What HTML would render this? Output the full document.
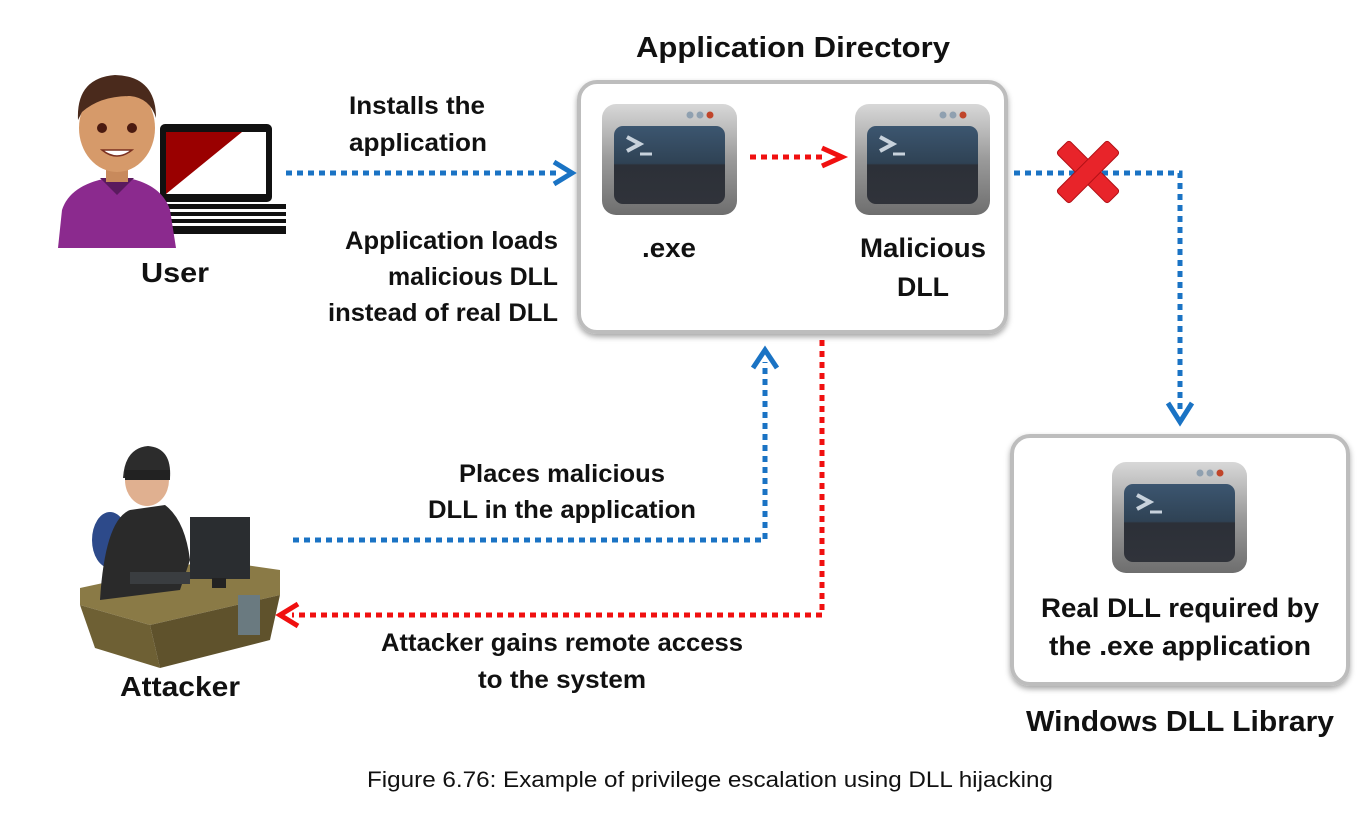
<!DOCTYPE html>
<html><head><meta charset="utf-8"><style>
html,body{margin:0;padding:0;background:#fff;}
svg{display:block;}
text{font-family:"Liberation Sans",sans-serif;font-weight:bold;fill:#111;}
</style></head><body>
<svg width="1366" height="816" viewBox="0 0 1366 816" xmlns="http://www.w3.org/2000/svg">
<defs>
<linearGradient id="frame" x1="0" y1="0" x2="0" y2="1"><stop offset="0" stop-color="#d8d8d8"/><stop offset="0.5" stop-color="#9a9a9a"/><stop offset="1" stop-color="#6e6e6e"/></linearGradient>
<linearGradient id="scr" x1="0" y1="0" x2="0" y2="1"><stop offset="0" stop-color="#3c5670"/><stop offset="0.48" stop-color="#2f4254"/><stop offset="0.5" stop-color="#2c3038"/><stop offset="1" stop-color="#30333a"/></linearGradient>
<filter id="sh" x="-5%" y="-5%" width="110%" height="115%"><feDropShadow dx="0" dy="3" stdDeviation="3" flood-color="#000" flood-opacity="0.35"/></filter>
<g id="term">
<rect x="0" y="0" width="135" height="111" rx="14" fill="url(#frame)"/>
<rect x="12" y="22" width="111" height="78" rx="9" fill="url(#scr)"/>
<circle cx="88" cy="11" r="3.5" fill="#8fa0b0"/><circle cx="98" cy="11" r="3.5" fill="#8fa0b0"/><circle cx="108" cy="11" r="3.5" fill="#c0452a"/>
<polyline points="25,33 38,40 25,47" fill="none" stroke="#c8d2dc" stroke-width="4"/>
<line x1="38" y1="50" x2="50" y2="50" stroke="#c8d2dc" stroke-width="3"/>
</g>
</defs>

<text x="793" y="57" font-size="29" text-anchor="middle" textLength="314" lengthAdjust="spacingAndGlyphs">Application Directory</text>

<rect x="579" y="82" width="427" height="250" rx="18" fill="#fff" stroke="#bdbdbd" stroke-width="4" filter="url(#sh)"/>
<use href="#term" x="602" y="104"/>
<use href="#term" x="855" y="104"/>
<text x="669" y="257" font-size="27" text-anchor="middle" textLength="54" lengthAdjust="spacingAndGlyphs">.exe</text>
<text x="923" y="257" font-size="27" text-anchor="middle" textLength="126" lengthAdjust="spacingAndGlyphs">Malicious</text>
<text x="923" y="296" font-size="27" text-anchor="middle" textLength="52" lengthAdjust="spacingAndGlyphs">DLL</text>

<line x1="750" y1="157" x2="822" y2="157" stroke="#f01010" stroke-width="5" stroke-dasharray="6,5"/>
<polyline points="822,148 842,157 822,166" fill="none" stroke="#f01010" stroke-width="5"/>

<rect x="1012" y="436" width="336" height="248" rx="18" fill="#fff" stroke="#bdbdbd" stroke-width="4" filter="url(#sh)"/>
<use href="#term" x="1112" y="462"/>
<text x="1180" y="617" font-size="27" text-anchor="middle" textLength="278" lengthAdjust="spacingAndGlyphs">Real DLL required by</text>
<text x="1180" y="655" font-size="27" text-anchor="middle" textLength="262" lengthAdjust="spacingAndGlyphs">the .exe application</text>
<text x="1180" y="731" font-size="29" text-anchor="middle" textLength="308" lengthAdjust="spacingAndGlyphs">Windows DLL Library</text>

<polyline points="1014,173 1180,173 1180,412" fill="none" stroke="#1a73c4" stroke-width="5" stroke-dasharray="6,5"/>
<polyline points="1168,403 1180,422 1192,403" fill="none" stroke="#1a73c4" stroke-width="5"/>
<g transform="translate(1088,172) rotate(45)">
<rect x="-36" y="-9" width="72" height="18" rx="3" fill="#e8242a" stroke="#b01015" stroke-width="1"/>
<rect x="-9" y="-36" width="18" height="72" rx="3" fill="#e8242a" stroke="#b01015" stroke-width="1"/>
</g>

<!-- User -->
<rect x="160" y="124" width="112" height="78" rx="5" fill="#111"/>
<rect x="166" y="132" width="100" height="62" fill="#fff"/>
<polygon points="166,132 242,132 166,194" fill="#9a0000"/>
<rect x="150" y="204" width="136" height="5" fill="#111"/>
<rect x="152" y="212" width="134" height="4" fill="#111"/>
<rect x="152" y="219" width="134" height="4" fill="#111"/>
<rect x="154" y="226" width="132" height="8" fill="#111"/>
<path d="M58,248 L62,210 Q70,185 108,178 L128,178 Q162,185 170,210 L176,248 Z" fill="#8b2a8e"/>
<path d="M100,178 L117,195 L134,178 Z" fill="#5a1a5e"/>
<rect x="106" y="160" width="22" height="22" fill="#c88a5c"/>
<ellipse cx="117" cy="128" rx="38" ry="44" fill="#d69a6a"/>
<path d="M78,120 Q76,78 115,75 Q156,76 156,118 Q150,98 130,96 Q100,96 82,112 Z" fill="#4a2a1c"/>
<circle cx="102" cy="128" r="5" fill="#4a1a10"/><circle cx="132" cy="128" r="5" fill="#4a1a10"/>
<path d="M102,150 Q117,162 132,150 Z" fill="#fff" stroke="#7a3020" stroke-width="1.5"/>
<text x="175" y="282" font-size="28" text-anchor="middle" textLength="68" lengthAdjust="spacingAndGlyphs">User</text>

<text x="349" y="114" font-size="25" textLength="136" lengthAdjust="spacingAndGlyphs">Installs the</text>
<text x="349" y="151" font-size="25" textLength="138" lengthAdjust="spacingAndGlyphs">application</text>
<line x1="286" y1="173" x2="560" y2="173" stroke="#1a73c4" stroke-width="5" stroke-dasharray="6,5"/>
<polyline points="554,162 572,173 554,184" fill="none" stroke="#1a73c4" stroke-width="5"/>

<text x="558" y="249" font-size="25" text-anchor="end" textLength="213" lengthAdjust="spacingAndGlyphs">Application loads</text>
<text x="558" y="285" font-size="25" text-anchor="end" textLength="170" lengthAdjust="spacingAndGlyphs">malicious DLL</text>
<text x="558" y="321" font-size="25" text-anchor="end" textLength="230" lengthAdjust="spacingAndGlyphs">instead of real DLL</text>

<!-- Attacker -->
<polygon points="80,588 210,560 280,570 280,595 150,625 80,605" fill="#8a7a46"/>
<polygon points="80,605 150,625 160,668 95,648" fill="#6e6034"/>
<polygon points="150,625 280,595 270,640 160,668" fill="#5f522c"/>
<ellipse cx="110" cy="540" rx="18" ry="28" fill="#2d4a8a"/>
<path d="M100,600 Q105,520 130,510 L165,505 Q185,520 190,560 L180,590 Z" fill="#2a2a2a"/>
<ellipse cx="147" cy="480" rx="22" ry="26" fill="#e0b090"/>
<path d="M123,478 Q125,448 148,446 Q172,448 170,478 Z" fill="#2c2c2c"/>
<rect x="125" y="470" width="45" height="10" fill="#222"/>
<rect x="190" y="517" width="60" height="62" fill="#2a2d30"/>
<rect x="212" y="578" width="14" height="10" fill="#222"/>
<rect x="130" y="572" width="60" height="12" fill="#3a3d40"/>
<rect x="238" y="595" width="22" height="40" fill="#6a7a80"/>
<text x="180" y="696" font-size="28" text-anchor="middle" textLength="120" lengthAdjust="spacingAndGlyphs">Attacker</text>

<text x="562" y="482" font-size="25" text-anchor="middle" textLength="206" lengthAdjust="spacingAndGlyphs">Places malicious</text>
<text x="562" y="518" font-size="25" text-anchor="middle" textLength="268" lengthAdjust="spacingAndGlyphs">DLL in the application</text>
<polyline points="293,540 765,540 765,362" fill="none" stroke="#1a73c4" stroke-width="5" stroke-dasharray="6,5"/>
<polyline points="753,368 765,350 777,368" fill="none" stroke="#1a73c4" stroke-width="5"/>

<polyline points="822,340 822,615 292,615" fill="none" stroke="#f01010" stroke-width="5" stroke-dasharray="6,5"/>
<polyline points="298,604 280,615 298,626" fill="none" stroke="#f01010" stroke-width="5"/>
<text x="562" y="651" font-size="25" text-anchor="middle" textLength="362" lengthAdjust="spacingAndGlyphs">Attacker gains remote access</text>
<text x="562" y="688" font-size="25" text-anchor="middle" textLength="168" lengthAdjust="spacingAndGlyphs">to the system</text>

<text x="710" y="787" font-size="22" text-anchor="middle" style="font-weight:normal" fill="#222" textLength="686" lengthAdjust="spacingAndGlyphs">Figure 6.76: Example of privilege escalation using DLL hijacking</text>
</svg>
</body></html>
